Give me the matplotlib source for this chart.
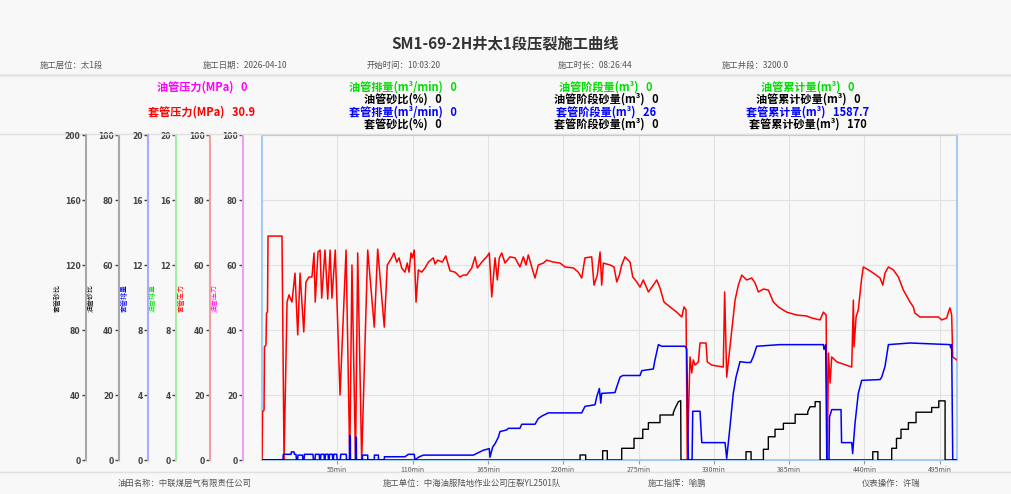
import matplotlib
matplotlib.use('Agg')
import matplotlib.pyplot as plt
from matplotlib.lines import Line2D
from matplotlib.font_manager import FontProperties

plt.rcParams['font.family'] = ['Noto Sans CJK SC', 'DejaVu Sans']

# ---- data (time in min, value in own unit) ----
red_pts = [(0, 0), (0.4, 14.8), (1.5, 15.4), (1.8, 34.8), (2.9, 35.4), (3.3, 45.2), (4.0, 45.5), (4.4, 68.9),
           (14.6, 68.9), (16.1, 0), (18.3, 48.6), (19.7, 50.8), (21.9, 48.6), (24.1, 57.5), (26.1, 38.5),
           (27.8, 57.5), (30.5, 39.4), (32.1, 54.8), (34.3, 56.3), (36.5, 56.3), (38.0, 63.7), (38.9, 48.6),
           (40.9, 64.0), (42.4, 64.6), (43.6, 49.8), (46.0, 64.6), (48.0, 49.5), (49.7, 64.6), (51.1, 49.8),
           (53.5, 64.6), (57.0, 20.0), (61.4, 64.6), (64.1, 0), (65.7, 60.0), (68.3, 0), (69.9, 63.7),
           (72.8, 0), (77.2, 64.6), (82.0, 40.9), (84.5, 64.9), (89.3, 40.9), (91.5, 60.0), (94.7, 62.2),
           (96.4, 63.7), (98.4, 60.9), (100.1, 62.2), (102.0, 59.1), (104.4, 57.8), (106.1, 60.6),
           (107.4, 57.8), (108.8, 63.7), (109.8, 62.2), (111.2, 64.6), (112.5, 48.6), (114.2, 58.5),
           (116.6, 57.8), (119.1, 59.1), (121.5, 60.9), (125.1, 62.2), (126.4, 60.3), (128.3, 61.5),
           (131.7, 60.9), (134.2, 62.8), (137.3, 58.2), (141.0, 57.8), (144.6, 56.3), (147.0, 56.9),
           (149.5, 56.9), (153.2, 59.1), (155.6, 62.5), (157.3, 59.1), (160.5, 60.9), (164.1, 62.5),
           (166.0, 63.7), (167.8, 50.2), (170.2, 62.2), (171.9, 55.4), (173.3, 62.2), (175.1, 63.7),
           (177.5, 60.6), (181.1, 62.5), (184.8, 62.2), (188.4, 59.4), (190.9, 62.5), (192.8, 60.0),
           (194.5, 63.1), (197.0, 59.4), (199.4, 56.0), (201.8, 60.0), (205.5, 60.6), (207.9, 61.5),
           (212.8, 60.9), (217.7, 60.6), (221.3, 59.4), (227.4, 59.1), (231.0, 57.8), (233.5, 56.0),
           (235.9, 62.2), (240.8, 62.5), (242.5, 53.8), (244.9, 56.9), (246.9, 64.0), (248.1, 53.8),
           (249.3, 60.6), (254.2, 60.0), (257.1, 59.4), (259.1, 54.8), (261.0, 56.9), (262.7, 60.0),
           (265.1, 62.5), (268.8, 60.9), (270.8, 56.3), (273.7, 54.8), (276.1, 53.2), (278.5, 55.4),
           (282.2, 51.7), (285.8, 53.8), (288.3, 55.4), (290.7, 52.9), (293.6, 48.6), (298.0, 47.1),
           (302.9, 45.5), (306.6, 44.0), (308.2, 47.1), (309.7, 46.2), (310.6, 0), (312.6, 31.7),
           (313.9, 26.8), (315.0, 30.8), (316.3, 29.2), (318.7, 30.2), (319.9, 36.0), (324.3, 36.0),
           (325.2, 30.2), (328.5, 29.2), (336.9, 28.6), (337.9, 51.7), (339.4, 25.5), (341.8, 34.8),
           (345.5, 49.2), (347.9, 53.8), (350.4, 56.9), (354.0, 55.4), (357.7, 56.0), (360.1, 54.5),
           (362.5, 51.7), (366.2, 52.6), (369.8, 52.3), (373.5, 48.6), (377.1, 47.1), (383.2, 45.5),
           (390.6, 44.6), (397.9, 44.3), (401.5, 43.7), (407.6, 43.1), (410.0, 45.5), (412.0, 44.6),
           (412.9, 0), (413.7, 32.9), (414.9, 23.7), (416.1, 31.7), (419.8, 30.2), (424.6, 29.5),
           (430.7, 28.6), (431.9, 49.2), (432.4, 34.8), (433.9, 44.0), (435.5, 46.2), (438.0, 56.0),
           (439.2, 59.4), (442.9, 58.5), (446.5, 57.5), (451.4, 56.0), (453.4, 53.8), (455.0, 57.5),
           (457.5, 59.4), (461.1, 58.5), (464.8, 56.3), (468.4, 52.3), (473.3, 48.6), (475.7, 47.1),
           (476.9, 45.2), (480.6, 44.0), (486.7, 44.0), (494.0, 44.0), (496.5, 43.1), (500.1, 43.7),
           (501.3, 45.5), (502.5, 46.8), (503.7, 44.6), (504.5, 31.7), (507.4, 30.8)]

blue_pts = [(0, 0), (15.3, 0), (15.6, 0.35), (21.2, 0.35), (21.5, 0.5), (23.4, 0.5), (23.7, 0.35), (24.8, 0.35),
            (25.2, 0), (25.9, 0), (26.3, 0.3), (29.6, 0.3), (29.9, 0), (30.7, 0), (31.0, 0.35), (37.2, 0.35),
            (37.6, 0), (38.7, 0), (39.0, 0.35), (41.8, 0.35), (42.1, 0), (42.7, 0), (43.0, 0.35), (45.3, 0.35),
            (45.6, 0), (46.0, 0), (46.3, 0.35), (48.3, 0.35), (48.6, 0), (49.0, 0), (49.3, 0.35), (51.4, 0.35),
            (51.7, 0), (52.1, 0), (52.4, 0.35), (54.6, 0.35), (54.9, 0), (57.2, 0), (57.5, 0.35), (61.5, 0.35),
            (61.8, 0), (63.9, 0), (64.0, 1.5), (64.5, 1.5), (64.6, 0), (68.3, 0), (68.4, 1.4), (68.9, 1.4),
            (69.0, 0), (73.3, 0), (73.4, 0.3), (77.2, 0.3), (77.3, 0), (82.0, 0), (82.1, 0.3), (85.0, 0.3),
            (85.1, 0), (89.3, 0), (89.4, 0.2), (104.4, 0.2), (106.9, 0.35), (111.2, 0.35), (111.7, 0),
            (114.2, 0.17), (117.8, 0.3), (154.3, 0.3), (161.6, 0.6), (166.0, 0.7), (166.5, 0.17), (168.5, 0.8),
            (170.2, 1.0), (172.6, 1.4), (173.8, 1.75), (178.7, 1.85), (179.9, 1.95), (188.4, 1.95),
            (189.7, 2.2), (199.4, 2.2), (201.8, 2.55), (204.3, 2.7), (209.1, 2.9), (233.5, 2.9), (235.9, 3.3),
            (243.2, 3.4), (244.5, 3.9), (246.4, 4.4), (247.4, 3.5), (248.1, 4.1), (257.8, 4.15), (259.1, 4.5),
            (261.5, 5.1), (263.5, 5.2), (276.1, 5.2), (277.4, 5.5), (285.8, 5.6), (287.0, 6.15), (288.3, 6.65),
            (289.5, 7.1), (291.9, 7.0), (308.9, 7.0), (310.2, 6.85), (311.4, 0), (314.1, 0), (314.6, 3.0),
            (319.9, 3.0), (321.2, 1.07), (338.2, 1.07), (339.4, 0.1), (341.8, 2.05), (344.2, 4.1), (346.2, 5.1),
            (349.1, 6.05), (354.0, 6.0), (356.9, 6.0), (358.8, 6.35), (361.3, 7.0), (378.3, 7.1), (410.0, 7.1),
            (410.5, 6.8), (411.7, 7.1), (412.5, 0), (414.1, 0), (414.5, 2.65), (416.1, 3.1), (422.9, 3.1),
            (423.3, 1.07), (430.7, 1.07), (431.4, 0.4), (433.1, 2.25), (435.5, 4.1), (438.0, 4.9),
            (451.4, 4.95), (452.6, 5.1), (455.0, 5.75), (457.5, 7.1), (473.3, 7.2), (502.5, 7.1), (503.0, 6.9),
            (503.7, 7.1), (504.5, 0), (507.6, 0)]

black_pts = [(0, 0), (232.3, 0), (232.3, 3.1), (236.4, 3.1), (236.4, 0), (248.8, 0), (248.8, 5.7), (252.2, 5.7),
             (252.2, 0), (262.7, 0), (262.7, 7.2), (271.7, 7.2), (271.7, 13.3), (278.1, 13.3), (278.1, 18.9),
             (282.2, 18.9), (282.2, 23.0), (290.7, 23.0), (290.7, 27.7), (300.4, 27.7), (300.4, 29.1),
             (301.7, 31.8), (304.1, 35.9), (305.8, 36.5), (306.0, 0), (353.5, 0), (353.5, 5.1), (357.2, 5.1),
             (357.2, 0), (366.2, 0), (366.2, 6.6), (369.8, 6.6), (369.8, 14.3), (374.7, 14.3), (374.7, 18.9),
             (380.8, 18.9), (380.8, 22.6), (389.4, 22.6), (389.4, 28.1), (398.6, 28.1), (398.6, 29.7),
             (400.3, 32.8), (404.0, 32.8), (404.0, 35.9), (407.6, 35.9), (407.6, 0), (446.1, 0), (446.1, 5.1),
             (449.8, 5.1), (449.8, 0), (459.9, 0), (459.9, 7.2), (463.4, 7.2), (463.4, 13.3), (466.7, 13.3),
             (466.7, 18.9), (472.1, 18.9), (472.1, 23.0), (477.7, 23.0), (477.7, 29.4), (489.1, 29.4),
             (489.1, 32.3), (494.3, 32.3), (494.3, 36.4), (498.9, 36.4), (498.9, 0), (507.6, 0)]

# left axes: label, max, label colour, spine colour
axis_names = ['套管砂比', '油管砂比', '套管排量', '油管排量', '套管压力', '油管压力']
axis_max = [200, 100, 20, 20, 100, 100]
axis_colors = ['black', 'black', '#0000ff', '#00dd00', '#ff0000', '#ff00ff']
spine_colors = ['#a8a8a8', '#a8a8a8', '#aaaaff', '#a0eea0', '#f0a0a0', '#f0a0f0']

x_ticks = [55, 110, 165, 220, 275, 330, 385, 440, 495]
x_max = 507.6

title = 'SM1-69-2H井太1段压裂施工曲线'
info = ['施工层位：太1段', '施工日期：2026-04-10', '开始时间：10:03:20', '施工时长：08:26:44', '施工井段：3200.0']
footer = ['油田名称：中联煤层气有限责任公司', '施工单位：中海油服陆地作业公司压裂YL2501队', '施工指挥：喻鹏', '仪表操作：许瑞']

stats = [
    # (column, row, text, colour)
    (0, 0, '油管压力(MPa)   0', '#ff00ff'),
    (0, 2, '套管压力(MPa)   30.9', '#ff0000'),
    (1, 0, '油管排量(m³/min)   0', '#00dd00'),
    (1, 1, '油管砂比(%)   0', 'black'),
    (1, 2, '套管排量(m³/min)   0', '#0000ff'),
    (1, 3, '套管砂比(%)   0', 'black'),
    (2, 0, '油管阶段量(m³)   0', '#00dd00'),
    (2, 1, '油管阶段砂量(m³)   0', 'black'),
    (2, 2, '套管阶段量(m³)   26', '#0000ff'),
    (2, 3, '套管阶段砂量(m³)   0', 'black'),
    (3, 0, '油管累计量(m³)   0', '#00dd00'),
    (3, 1, '油管累计砂量(m³)   0', 'black'),
    (3, 2, '套管累计量(m³)   1587.7', '#0000ff'),
    (3, 3, '套管累计砂量(m³)   170', 'black'),
]

# ---- figure ----
W, H = 1011, 494
fig = plt.figure(figsize=(W / 100, H / 100), dpi=100, facecolor='#f8f8f8')

fig.text(505 / W, 1 - 43 / H, title, ha='center', va='center', fontsize=11, fontweight='bold', color='#333333')
for xp, s in zip([40, 203, 367, 558, 722], info):
    fig.text(xp / W, 1 - 65 / H, s, ha='left', va='center', fontsize=6, color='#555555')

col_x = [202, 403, 606, 808]
row_y = [87, 99, 112, 124]
for c, r, s, col in stats:
    fig.text(col_x[c] / W, 1 - row_y[r] / H, s, ha='center', va='center', fontsize=8,
             fontweight='bold', color=col)

for xp, s in zip([118, 383, 648, 862], footer):
    fig.text(xp / W, 1 - 483 / H, s, ha='left', va='center', fontsize=6, color='#555555')

fig.add_artist(Line2D([0, 1], [1 - 75 / H] * 2, transform=fig.transFigure, color='#e4e4e4', lw=2))
fig.add_artist(Line2D([0, 1], [1 - 134 / H] * 2, transform=fig.transFigure, color='#e0e0e0', lw=1))
fig.add_artist(Line2D([0, 1], [1 - 472 / H] * 2, transform=fig.transFigure, color='#e0e0e0', lw=1))

left, right, top, bottom = 262, 957, 135, 460
host = fig.add_axes([left / W, 1 - bottom / H, (right - left) / W, (bottom - top) / H])
host.set_facecolor('#f8f8f8')
host.set_xlim(0, x_max)
host.set_ylim(0, 100)
host.set_yticks([0, 20, 40, 60, 80, 100])
host.set_xticks(x_ticks)
host.set_xticklabels([f'{t}min' for t in x_ticks])
host.grid(color='#e2e2e2', lw=0.8)
host.set_axisbelow(True)
for sp in host.spines.values():
    sp.set_color('#a6cbf2')
    sp.set_linewidth(1.5)

spine_x = [86, 119, 148, 176, 210, 243]
axes = []
for i in range(6):
    ax = host.twinx()
    ax.set_ylim(0, axis_max[i])
    ax.set_yticks([axis_max[i] * k / 5 for k in range(6)])
    ax.set_yticklabels([f'{axis_max[i] * k // 5}' for k in range(6)])
    ax.yaxis.set_ticks_position('left')
    ax.yaxis.set_label_position('left')
    for name in ['right', 'top', 'bottom']:
        ax.spines[name].set_visible(False)
    ax.spines['left'].set_visible(True)
    ax.spines['left'].set_position(('axes', (spine_x[i] - left) / (right - left)))
    ax.spines['left'].set_color(spine_colors[i])
    ax.spines['left'].set_linewidth(1.5)
    ax.tick_params(axis='y', direction='out', length=3, width=1, color='#444444',
                   labelcolor='#444444', pad=1)
    ax.set_ylabel(axis_names[i], color=axis_colors[i], fontsize=5, labelpad=2)
    axes.append(ax)

# twinx turns the host's left ticks back on
host.tick_params(axis='y', left=False, right=False, labelleft=False, labelright=False)
host.tick_params(axis='x', length=3, color='#999999', labelsize=5, labelcolor='#555555', pad=1)

# 套管压力 (red), 套管排量 (blue), 套管砂比 (black)
axes[4].plot([p[0] for p in red_pts], [p[1] for p in red_pts], color='#ff0000', lw=1.1)
axes[2].plot([p[0] for p in blue_pts], [p[1] for p in blue_pts], color='#0000ff', lw=1.1)
axes[0].plot([p[0] for p in black_pts], [p[1] for p in black_pts], color='black', lw=1.0)
axes[4].set_zorder(1)
axes[2].set_zorder(2)
axes[0].set_zorder(3)

tick_font = FontProperties(family='DejaVu Sans', weight='bold', size=5.5)
for ax in axes:
    for lab in ax.get_yticklabels():
        lab.set_fontproperties(tick_font)

fig.savefig('out.png', dpi=100, facecolor=fig.get_facecolor())
